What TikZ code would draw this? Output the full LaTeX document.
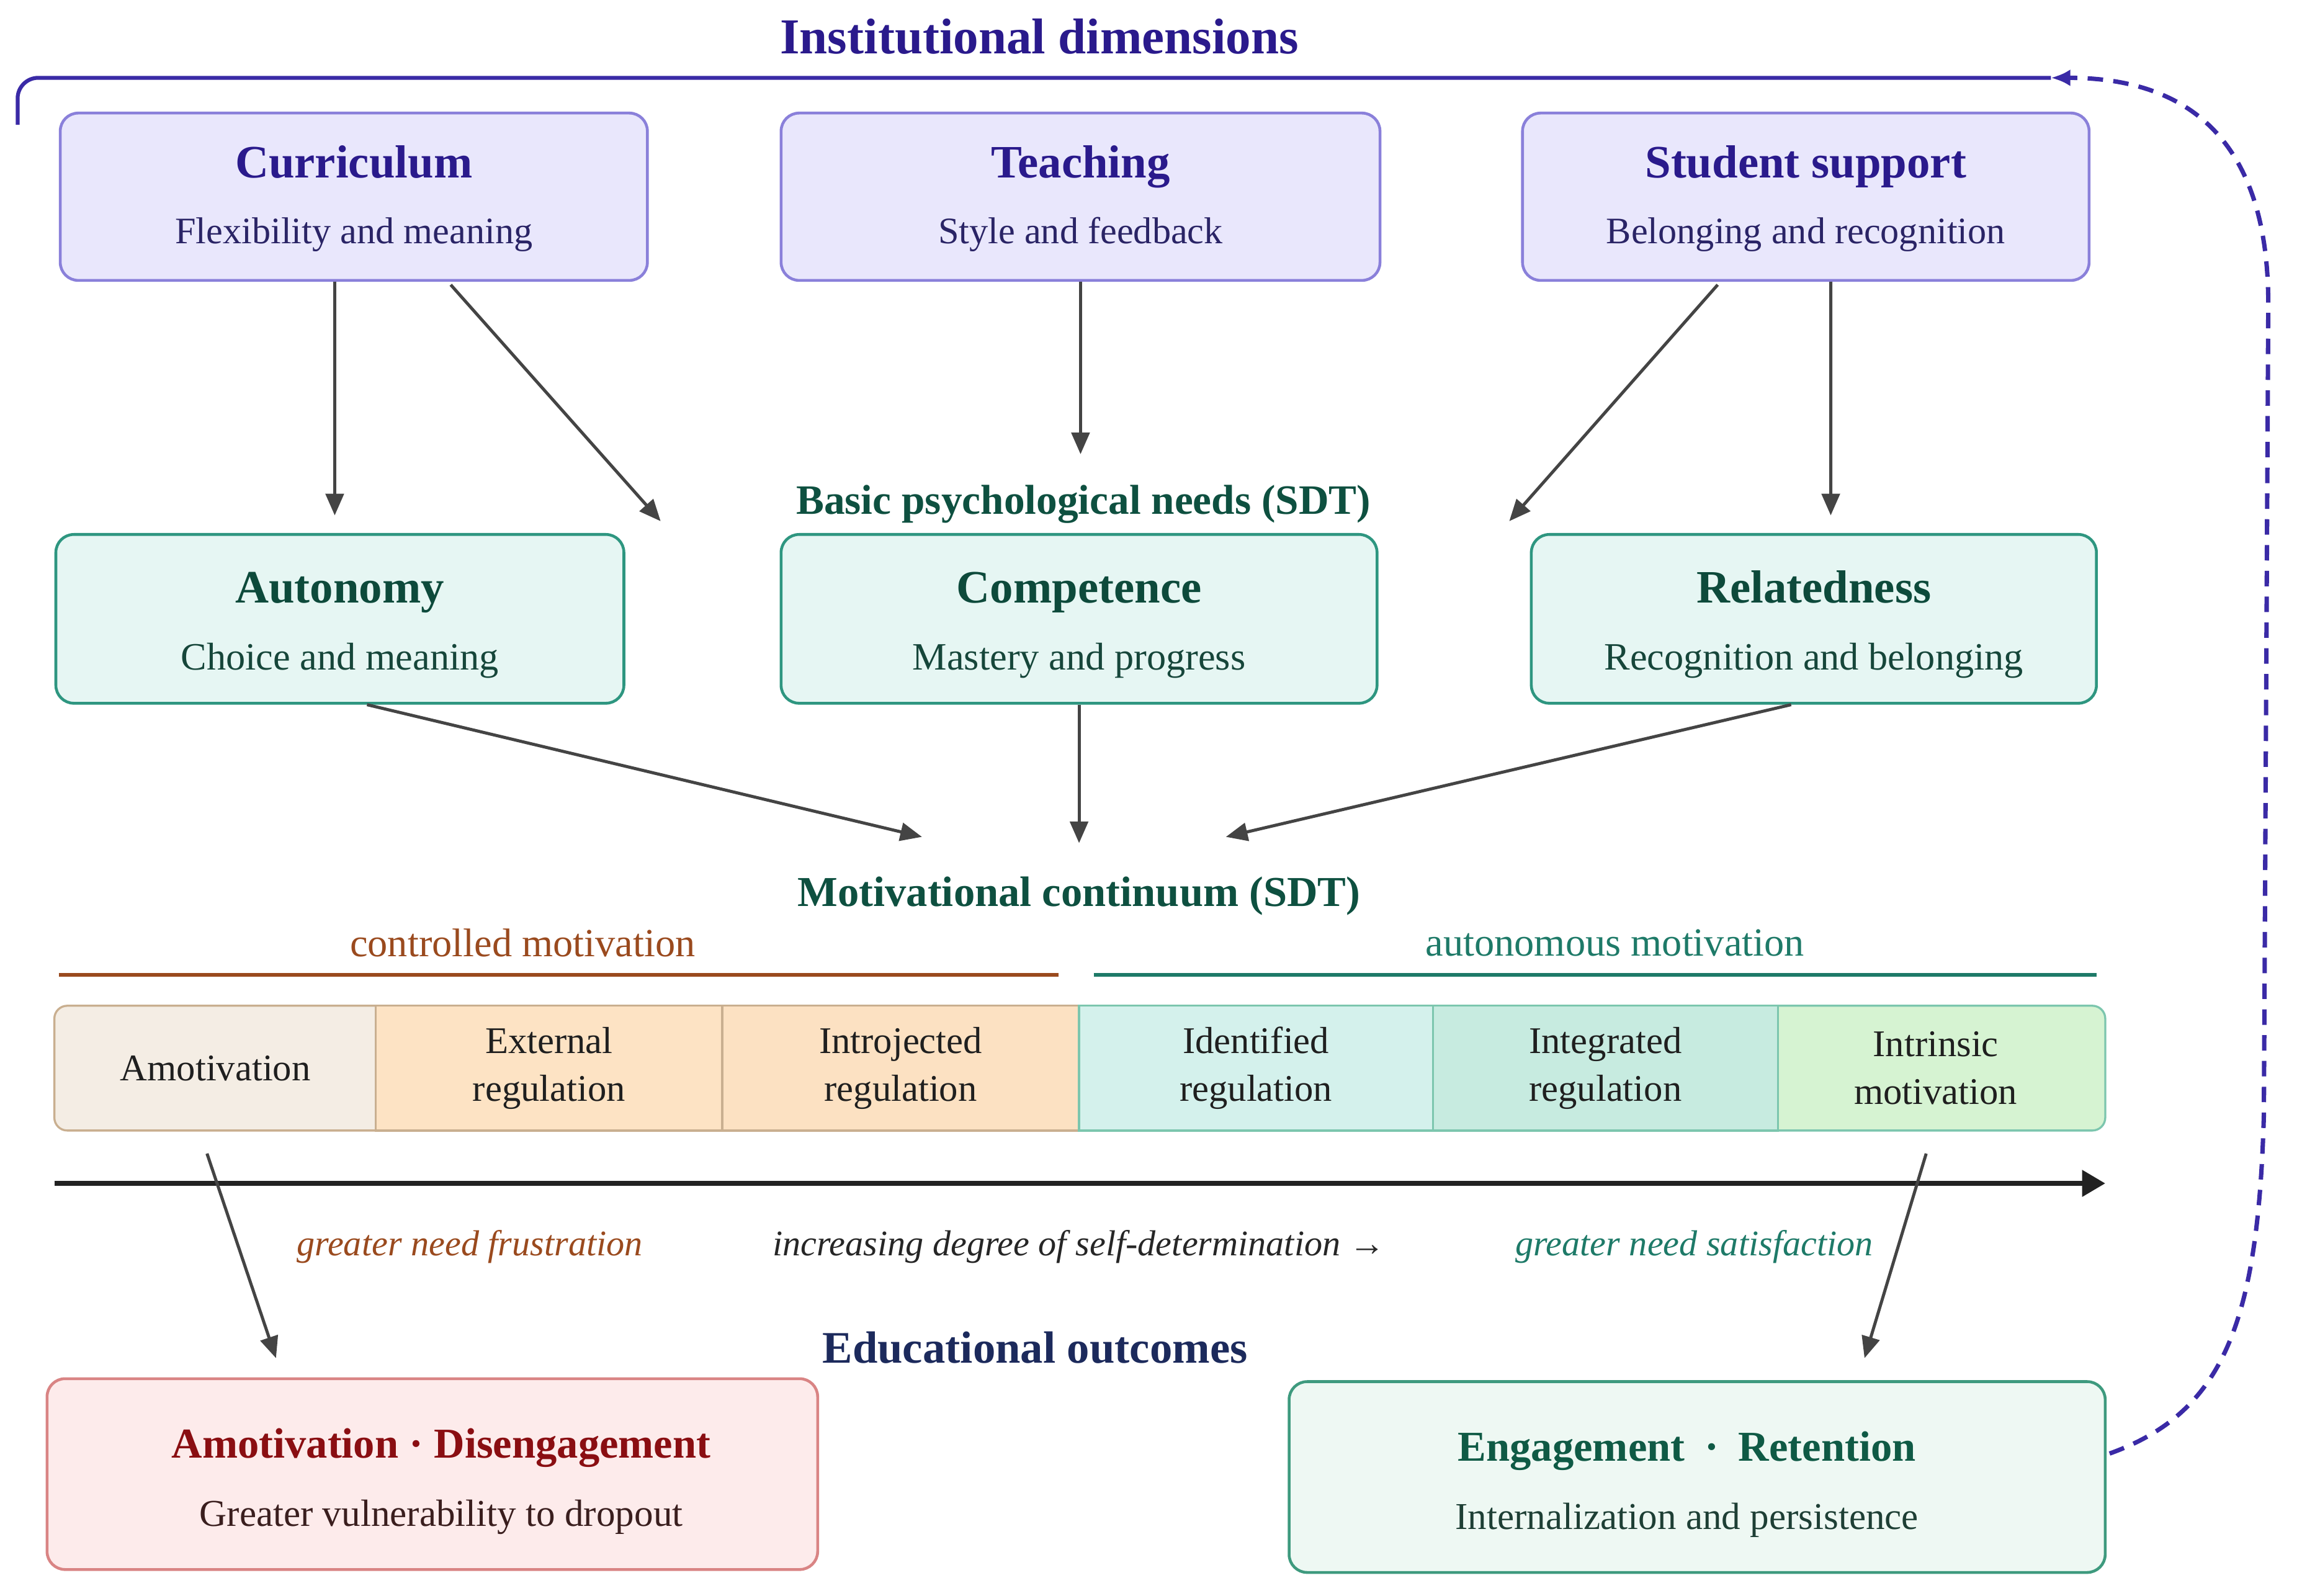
\documentclass[tikz,border=0pt]{standalone}
\usepackage{fontspec}
\setmainfont{Liberation Serif}
\usetikzlibrary{arrows.meta, positioning, calc}
\definecolor{inst-fill}{HTML}{E9E7FC}
\definecolor{inst-border}{HTML}{8A80DA}
\definecolor{inst-title}{HTML}{2A1A8C}
\definecolor{inst-sub}{HTML}{2A2466}
\definecolor{need-fill}{HTML}{E6F6F3}
\definecolor{need-border}{HTML}{2E9680}
\definecolor{need-title}{HTML}{0D4A3B}
\definecolor{need-sub}{HTML}{16463A}
\definecolor{head-green}{HTML}{0E5040}
\definecolor{head-navy}{HTML}{1C2A5C}
\definecolor{ctrl-brown}{HTML}{9A4A1E}
\definecolor{auto-teal}{HTML}{1E7A68}
\definecolor{cell-amot}{HTML}{F4EDE4}
\definecolor{cell-ext}{HTML}{FDE3C4}
\definecolor{cell-intro}{HTML}{FCE1C2}
\definecolor{cell-ident}{HTML}{D4F1EC}
\definecolor{cell-integ}{HTML}{C7EBE0}
\definecolor{cell-intrin}{HTML}{D6F3D2}
\definecolor{cell-ctrl-border}{HTML}{C9AF90}
\definecolor{cell-auto-border}{HTML}{7CC6AE}
\definecolor{risk-fill}{HTML}{FDEBEB}
\definecolor{risk-border}{HTML}{D98484}
\definecolor{risk-title}{HTML}{8A0E12}
\definecolor{risk-sub}{HTML}{3A1E1E}
\definecolor{gain-fill}{HTML}{EEF8F3}
\definecolor{gain-border}{HTML}{3E9A7E}
\definecolor{gain-title}{HTML}{0F5A45}
\definecolor{gain-sub}{HTML}{1E3F35}
\definecolor{arrow-gray}{HTML}{444444}
\definecolor{axis-ink}{HTML}{222222}
\definecolor{loop-indigo}{HTML}{3A2AA6}
\colorlet{title-ink}{black}
\def\titlelift{0pt}
\newcommand{\boxtitle}[1]{{\fontsize{18}{22}\selectfont\bfseries\color{title-ink}\rule{0pt}{\titlelift}#1}}
\newcommand{\outtitle}[1]{{\fontsize{16.5}{20}\selectfont\bfseries\color{title-ink}\rule{0pt}{\titlelift}#1}}
\tikzset{
  base-box/.style={
    rounded corners=7pt, line width=1.1pt, align=center, inner sep=2pt,
    font=\fontsize{14.5}{17}\selectfont
  },
  inst-box/.style={base-box, draw=inst-border, fill=inst-fill, text=inst-sub,
    minimum height=2.28cm,
    execute at begin node={\colorlet{title-ink}{inst-title}\def\titlelift{14pt}}},
  need-box/.style={base-box, draw=need-border, fill=need-fill, text=need-sub,
    font=\fontsize{15}{17.5}\selectfont, minimum height=2.3cm,
    execute at begin node={\colorlet{title-ink}{need-title}\def\titlelift{17pt}}},
  risk-box/.style={base-box, draw=risk-border, fill=risk-fill, text=risk-sub,
    font=\fontsize{14.7}{17.5}\selectfont, minimum height=2.6cm,
    execute at begin node={\colorlet{title-ink}{risk-title}\def\titlelift{17pt}}},
  gain-box/.style={base-box, draw=gain-border, fill=gain-fill, text=gain-sub,
    font=\fontsize{14.7}{17.5}\selectfont, minimum height=2.6cm,
    execute at begin node={\colorlet{title-ink}{gain-title}\def\titlelift{17pt}}},
  head/.style={font=\fontsize{16.5}{20}\selectfont\bfseries, inner sep=1pt},
  band-label/.style={font=\fontsize{15.5}{18}\selectfont, inner sep=1pt},
  axis-label/.style={font=\fontsize{14}{17}\selectfont\itshape, inner sep=1pt},
  cell/.style={minimum height=1.7cm, align=center, inner sep=0pt, line width=0.8pt,
    text=black!88, font=\fontsize{14.6}{18.5}\selectfont},
  ctrl-cell/.style={cell, draw=cell-ctrl-border},
  auto-cell/.style={cell, draw=cell-auto-border},
  flow-edge/.style={-{Triangle[length=8.4pt, width=7pt]}, line width=1.2pt, draw=arrow-gray},
  axis-edge/.style={-{Triangle[length=9pt, width=10pt]}, line width=1.9pt, draw=axis-ink},
  loop-line/.style={line width=1.5pt, draw=loop-indigo, rounded corners=8pt},
  loop-dash/.style={-{Latex[length=7.5pt, width=6.5pt]}, line width=1.7pt, draw=loop-indigo,
    dash pattern=on 6pt off 4pt}
}
\begin{document}
\begin{tikzpicture}[x=0.02cm, y=-0.02cm]
  \useasboundingbox (0,0) rectangle (1568,1087);

  % Titulos das camadas
  \node[head, font=\fontsize{19.5}{23}\selectfont\bfseries, text=inst-title] (inst-head) at (708,25) {Institutional dimensions};
  \node[head, font=\fontsize{16.2}{20}\selectfont\bfseries, text=head-green] (needs-head) at (738,343.5) {Basic psychological needs (SDT)};
  \node[head, text=head-green] (cont-head) at (735,610.5) {Motivational continuum (SDT)};
  \node[head, font=\fontsize{17.5}{21}\selectfont\bfseries, text=head-navy] (out-head) at (705,918) {Educational outcomes};

  % Dimensoes institucionais
  \node[inst-box, minimum width=8cm] (curr) at (241,134)
    {\boxtitle{Curriculum}\\[8.5pt]Flexibility and meaning};
  \node[inst-box, minimum width=8.16cm] (teach) at (736,134)
    {\boxtitle{Teaching}\\[8.5pt]Style and feedback};
  \node[inst-box, minimum width=7.72cm] (supp) at (1230,134)
    {\boxtitle{Student support}\\[8.5pt]Belonging and recognition};

  % Necessidades psicologicas basicas
  \node[need-box, minimum width=7.74cm] (aut) at (231.5,421.5)
    {\boxtitle{Autonomy}\\[8.5pt]Choice and meaning};
  \node[need-box, minimum width=8.12cm] (comp) at (735,421.5)
    {\boxtitle{Competence}\\[8.5pt]Mastery and progress};
  \node[need-box, minimum width=7.7cm] (rel) at (1235.5,421.5)
    {\boxtitle{Relatedness}\\[8.5pt]Recognition and belonging};

  % Faixas controlada / autonoma
  \node[band-label, text=ctrl-brown] (ctrl-label) at (356,642) {controlled motivation};
  \node[band-label, text=auto-teal] (auto-label) at (1100,642) {autonomous motivation};
  \draw[ctrl-brown, line width=1.6pt] (40,664) -- (721,664);
  \draw[auto-teal, line width=1.6pt] (745,664) -- (1428,664);

  % Continuo motivacional (extremos arredondados primeiro)
  \node[ctrl-cell, fill=cell-amot, rounded corners=5pt, minimum width=4.54cm] (amot) at (150.5,727.5) {Amotivation\hspace*{0.15cm}};
  \node[auto-cell, fill=cell-intrin, rounded corners=5pt, minimum width=4.62cm] (intrin) at (1318.5,727.5) {Intrinsic\\motivation};
  \node[ctrl-cell, fill=cell-ext, minimum width=4.72cm] (ext) at (374,727.5) {External\\regulation};
  \node[ctrl-cell, fill=cell-intro, minimum width=4.86cm] (intro) at (613.5,727.5) {Introjected\\regulation};
  \node[auto-cell, fill=cell-ident, minimum width=4.82cm] (ident) at (855.5,727.5) {Identified\\regulation};
  \node[auto-cell, fill=cell-integ, minimum width=4.7cm] (integ) at (1093.5,727.5) {Integrated\\regulation};

  % Eixo de autodeterminacao
  \coordinate (axis-start) at (37,806);
  \coordinate (axis-end) at (1434,806);
  \draw[axis-edge] (axis-start) -- (axis-end);
  \node[axis-label, text=ctrl-brown] (frust-label) at (320,849) {greater need frustration};
  \node[axis-label, text=black!85] (sd-label) at (735,849) {increasing degree of self-determination →};
  \node[axis-label, text=auto-teal] (sat-label) at (1154,849) {greater need satisfaction};

  % Resultados educacionais
  \node[risk-box, minimum width=10.5cm] (dis) at (294.5,1004)
    {\hspace*{0.24cm}\outtitle{Amotivation · Disengagement}\\[9pt]\hspace*{0.24cm}Greater vulnerability to dropout};
  \node[gain-box, minimum width=11.12cm] (eng) at (1156,1006)
    {\outtitle{Engagement\hspace{3.5pt} · \hspace{3.5pt}Retention}\hspace*{0.28cm}\\[9pt]Internalization and persistence\hspace*{0.28cm}};

  % Setas: dimensoes -> necessidades
  \coordinate (curr-to-comp) at (450,355);
  \coordinate (supp-to-comp) at (1028,355);
  \draw[flow-edge] ($(curr.south)+(-13,0)$) -- ($(aut.north)+(-3.5,-12)$);
  \draw[flow-edge] ($(curr.south)+(66,2)$) -- (curr-to-comp);
  \draw[flow-edge] (teach.south) -- ($(needs-head.north)+(-2,-19)$);
  \draw[flow-edge] ($(supp.south)+(-60,2)$) -- (supp-to-comp);
  \draw[flow-edge] ($(supp.south)+(17,0)$) -- ($(rel.north)+(11.5,-12)$);

  % Setas: necessidades -> continuo
  \coordinate (aut-to-cont) at (628,570);
  \coordinate (rel-to-cont) at (835,570);
  \draw[flow-edge] ($(aut.south)+(18.5,0)$) -- (aut-to-cont);
  \draw[flow-edge] (comp.south) -- ($(cont-head.north)+(0,-21)$);
  \draw[flow-edge] ($(rel.south)+(-15.5,0)$) -- (rel-to-cont);

  % Setas: continuo -> resultados
  \draw[flow-edge] ($(amot.south)+(-9.5,15)$) -- ($(dis.north)+(-106.5,-13)$);
  \draw[flow-edge] ($(intrin.south)+(-6.5,15)$) -- ($(eng.north)+(114,-15)$);

  % Retroalimentacao institucional
  \coordinate (loop-start) at (12,85);
  \coordinate (loop-end) at (1397,53);
  \draw[loop-line] (loop-start) |- (loop-end);
  \draw[loop-dash] ($(eng.east)+(2,-16)$) .. controls (1515,962) and (1538,900) .. (1542,760)
    -- (1545,210) .. controls (1546,95) and (1490,53) .. (loop-end);
\end{tikzpicture}
\end{document}
